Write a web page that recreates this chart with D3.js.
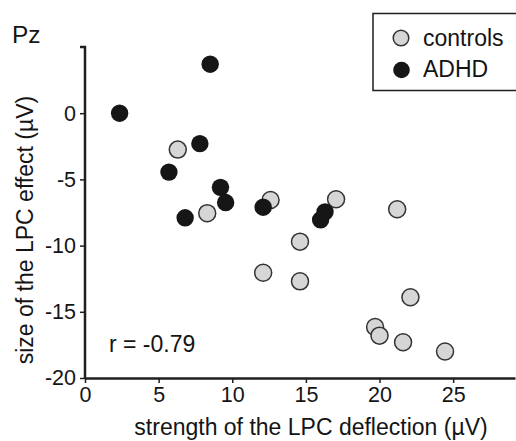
<!DOCTYPE html>
<html>
<head>
<meta charset="utf-8">
<script src="https://cdn.jsdelivr.net/npm/d3@7"></script>
<style>
  body { margin: 0; background: #fff; }
  text { font-family: "Liberation Sans", Arial, sans-serif; fill: #141414; }
</style>
</head>
<body>
<svg width="516" height="441"></svg>
<script>
// controls (grey) and ADHD (black): x = LPC deflection, y = LPC effect
const controlsX = [6.3, 8.3, 12.6, 17.05, 21.2, 14.6, 12.1, 14.6, 22.1, 19.7, 20.0, 21.6, 24.45];
const controlsY = [-2.75, -7.55, -6.55, -6.5, -7.25, -9.7, -12.05, -12.7, -13.9, -16.15, -16.8, -17.3, -18.0];
const adhdX = [2.35, 8.5, 7.8, 5.7, 9.2, 9.55, 6.8, 12.1, 16.3, 16.0];
const adhdY = [0.0, 3.7, -2.3, -4.45, -5.6, -6.75, -7.9, -7.1, -7.45, -8.05];
const xTicks = [0, 5, 10, 15, 20, 25];
const yTicks = [0, -5, -10, -15, -20];

const svg = d3.select("svg");
const ink = "#1f1f1f";

const x = d3.scaleLinear().domain([0, 29.2]).range([85, 515]);
const y = d3.scaleLinear().domain([-20, 5]).range([378, 47]);

const xAxis = svg.append("g")
  .attr("transform", `translate(0,${y(-20)})`)
  .call(d3.axisBottom(x).tickValues(xTicks).tickSize(5).tickSizeOuter(0).tickFormat(d3.format("d")));
const yAxis = svg.append("g")
  .attr("transform", `translate(${x(0)},0)`)
  .call(d3.axisLeft(y).tickValues(yTicks).tickSize(5).tickSizeOuter(0).tickFormat(d => d3.format("d")(d).replace("−", "-")));

[xAxis, yAxis].forEach(g => {
  g.select(".domain").attr("stroke", ink).attr("stroke-width", 2.5);
  g.selectAll(".tick line").attr("stroke", ink).attr("stroke-width", 1.5);
  g.selectAll(".tick text").attr("font-size", 21.5).attr("font-family", "Liberation Sans, Arial, sans-serif").attr("fill", "#141414");
});
xAxis.selectAll(".tick text").attr("y", 9).attr("dy", "0.72em");
yAxis.selectAll(".tick text").attr("x", -9);

// y axis top extends to value 5
yAxis.select(".domain").attr("d", `M-5,${y(5)}H0V${y(-20)}`);

svg.append("g").selectAll("circle")
  .data(d3.zip(controlsX, controlsY))
  .join("circle")
  .attr("cx", d => x(d[0]))
  .attr("cy", d => y(d[1]))
  .attr("r", 8.5)
  .attr("fill", "#d6d6d6")
  .attr("stroke", "#333")
  .attr("stroke-width", 1.5);

svg.append("g").selectAll("circle")
  .data(d3.zip(adhdX, adhdY))
  .join("circle")
  .attr("cx", d => x(d[0]))
  .attr("cy", d => y(d[1]))
  .attr("r", 8.7)
  .attr("fill", "#161616");

svg.append("text").attr("x", 12).attr("y", 43).attr("font-size", 24.5).text("Pz");
svg.append("text").attr("x", 109).attr("y", 352).attr("font-size", 23).text("r = -0.79");

svg.append("text")
  .attr("x", 311).attr("y", 435)
  .attr("text-anchor", "middle")
  .attr("font-size", 23)
  .text("strength of the LPC deflection (µV)");

svg.append("text")
  .attr("transform", `translate(33,230) rotate(-90)`)
  .attr("text-anchor", "middle")
  .attr("font-size", 23)
  .text("size of the LPC effect (µV)");

// legend
const lg = svg.append("g");
lg.append("rect").attr("x", 373).attr("y", 13.5).attr("width", 150).attr("height", 77)
  .attr("fill", "#fff").attr("stroke", ink).attr("stroke-width", 1.5);
lg.append("circle").attr("cx", 401).attr("cy", 38).attr("r", 7.8)
  .attr("fill", "#d6d6d6").attr("stroke", "#333").attr("stroke-width", 1.5);
lg.append("circle").attr("cx", 401.5).attr("cy", 70).attr("r", 8.3).attr("fill", "#161616");
lg.append("text").attr("x", 423).attr("y", 46).attr("font-size", 23).text("controls");
lg.append("text").attr("x", 423).attr("y", 77).attr("font-size", 23).text("ADHD");
</script>
</body>
</html>
